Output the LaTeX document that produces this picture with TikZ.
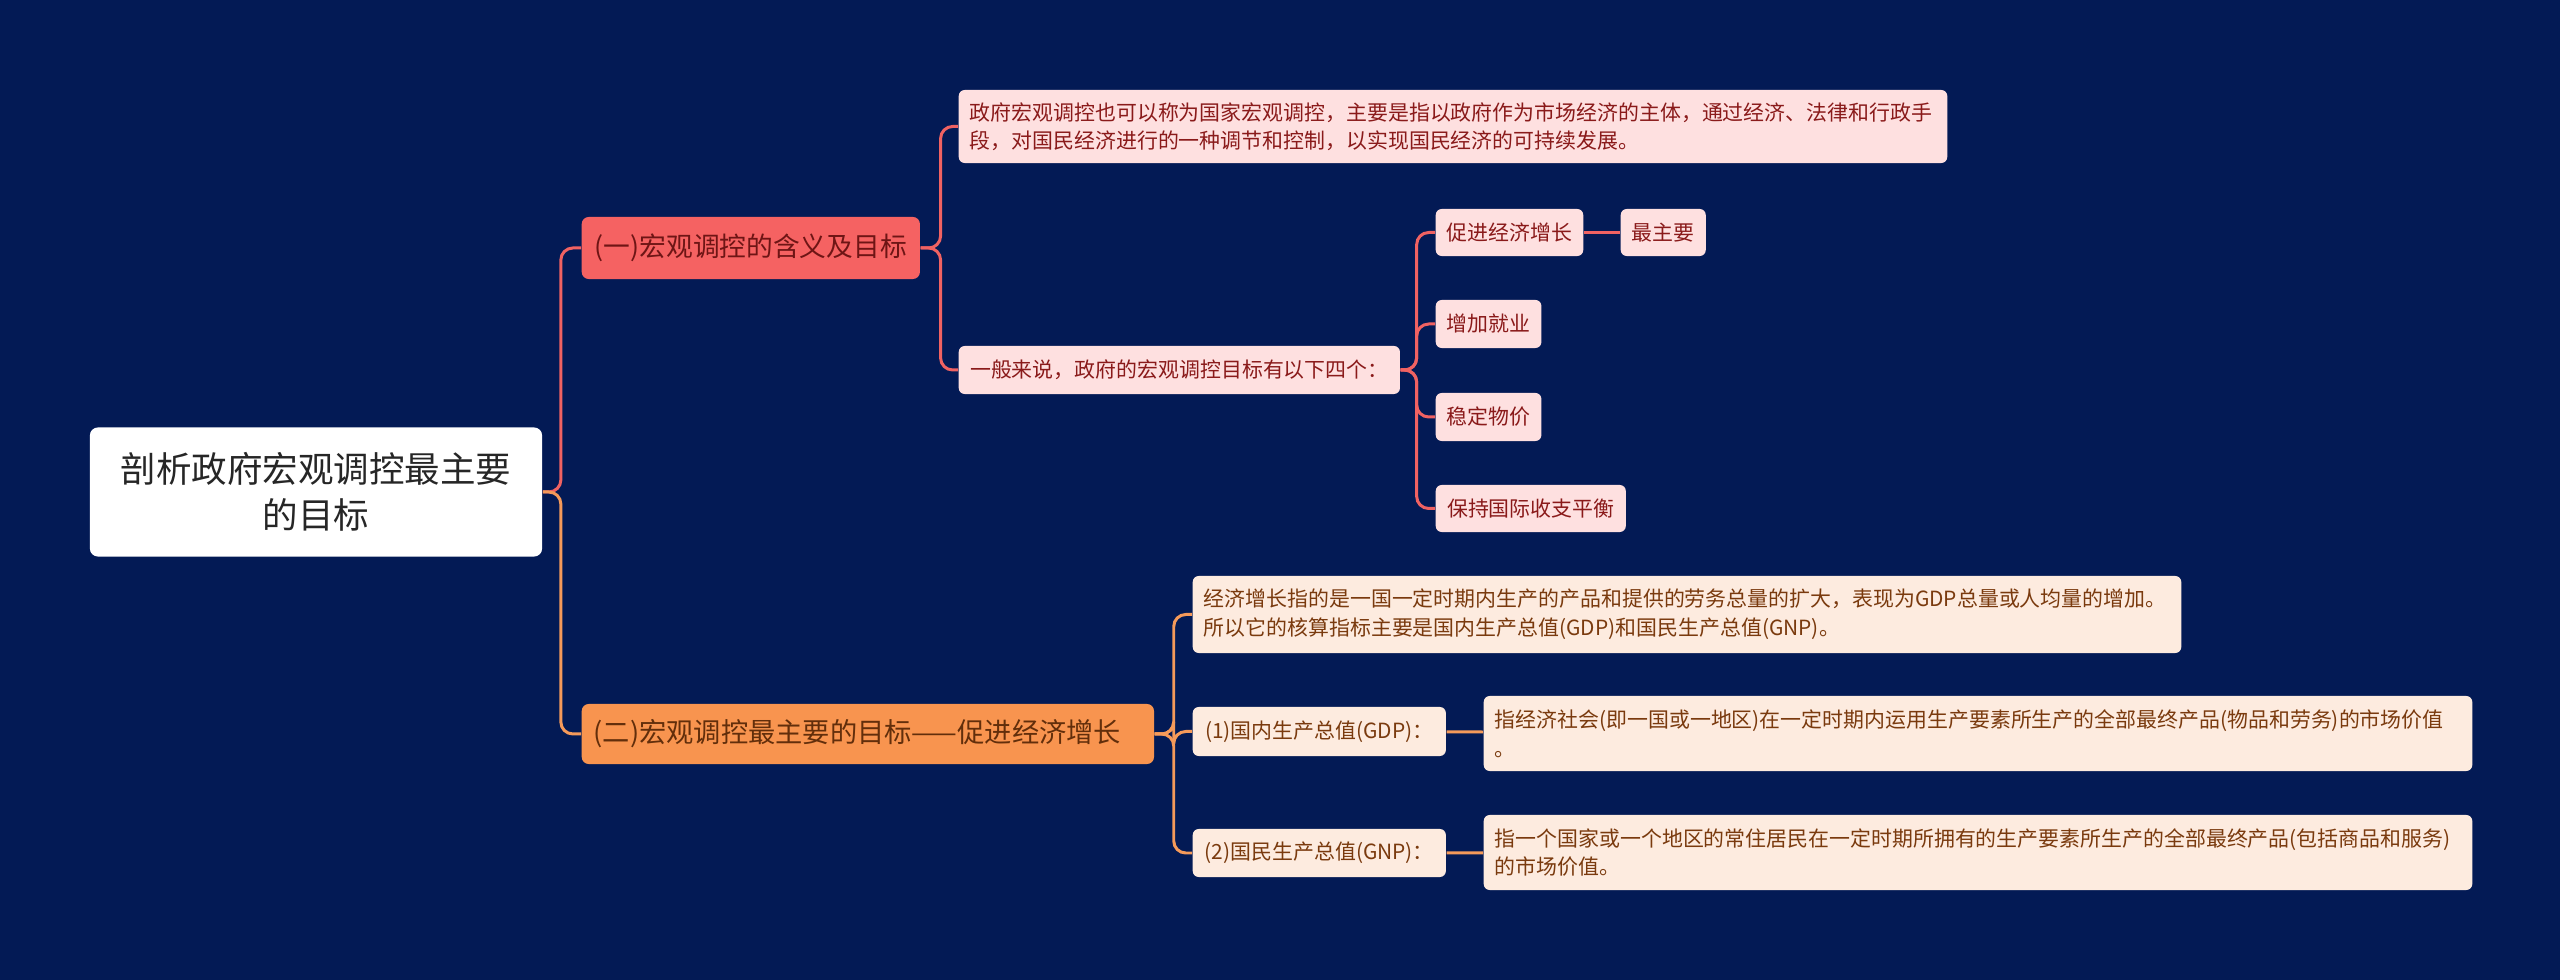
\documentclass[tikz,border=0pt]{standalone}
\usepackage{fontspec}
\setmainfont{Noto Sans CJK SC}
\usetikzlibrary{positioning}
\definecolor{bgnavy}{HTML}{031A55}
\definecolor{redfill}{HTML}{F56262}
\definecolor{orangefill}{HTML}{F8944F}
\definecolor{pinkfill}{HTML}{FEE0E0}
\definecolor{peachfill}{HTML}{FDEBDF}
\definecolor{redtext}{HTML}{8A1A1A}
\definecolor{browntext}{HTML}{7A3A0E}
\definecolor{redline}{HTML}{F06262}
\definecolor{orangeline}{HTML}{F59A5A}

\begin{document}
\begin{tikzpicture}[x=0.01cm, y=-0.01cm]
  % Define styles
  \tikzstyle{rootbox} = [rectangle, fill=white, rounded corners=0.08cm, minimum width=4.52cm, minimum height=1.29cm, align=center, text=black!85, font=\fontsize{10.1}{13.1}\selectfont]
  \tikzstyle{redbranch} = [rectangle, fill=redfill, rounded corners=0.07cm, minimum height=0.62cm, inner xsep=0.12cm, text=redtext!80!black, font=\fontsize{7.6}{9}\selectfont]
  \tikzstyle{orangebranch} = [rectangle, fill=orangefill, rounded corners=0.07cm, minimum height=0.6cm, inner xsep=0.12cm, text=browntext!80!black, font=\fontsize{7.75}{9}\selectfont]
  \tikzstyle{pinkleaf} = [rectangle, fill=pinkfill, rounded corners=0.06cm, inner xsep=0.11cm, align=left, text=redtext, font=\fontsize{5.95}{7.9}\selectfont]
  \tikzstyle{peachleaf} = [rectangle, fill=peachfill, rounded corners=0.06cm, inner xsep=0.11cm, align=left, text=browntext, font=\fontsize{5.95}{8.2}\selectfont]
  \tikzstyle{redlink} = [draw=redline, line width=0.85pt, rounded corners=0.12cm]
  \tikzstyle{orangelink} = [draw=orangeline, line width=0.85pt, rounded corners=0.12cm]

  % Background
  \fill[bgnavy] (0,0) rectangle (2560,980);

  % Root
  \node[rootbox] (root) at (316,492) {剖析政府宏观调控最主要\\的目标};

  % Branch one
  \node[redbranch, anchor=west, minimum width=3.38cm] (meaning) at (581,248) {(一)宏观调控的含义及目标};
  \node[pinkleaf, anchor=west, text width=9.66cm, minimum height=0.73cm] (define) at (958,126.5) {政府宏观调控也可以称为国家宏观调控，主要是指以政府作为市场经济的主体，通过经济、法律和行政手\\段，对国民经济进行的一种调节和控制，以实现国民经济的可持续发展。};
  \node[pinkleaf, anchor=west, minimum width=4.41cm, minimum height=0.48cm] (goals) at (958,370) {一般来说，政府的宏观调控目标有以下四个：};
  \node[pinkleaf, anchor=west, minimum width=1.47cm, minimum height=0.47cm] (growth) at (1435,232.5) {促进经济增长};
  \node[pinkleaf, anchor=west, minimum width=0.85cm, minimum height=0.47cm] (most) at (1620,232.5) {最主要};
  \node[pinkleaf, anchor=west, minimum width=1.05cm, minimum height=0.48cm] (jobs) at (1435,324) {增加就业};
  \node[pinkleaf, anchor=west, minimum width=1.05cm, minimum height=0.48cm] (prices) at (1435,417) {稳定物价};
  \node[pinkleaf, anchor=west, minimum width=1.9cm, minimum height=0.47cm] (balance) at (1435,508.5) {保持国际收支平衡};

  % Branch two
  \node[orangebranch, anchor=west, text width=5.48cm] (main) at (581,734) {(二)宏观调控最主要的目标——促进经济增长};
  \node[peachleaf, anchor=west, text width=9.66cm, minimum height=0.77cm] (explain) at (1192,614.5) {经济增长指的是一国一定时期内生产的产品和提供的劳务总量的扩大，表现为GDP总量或人均量的增加。\\所以它的核算指标主要是国内生产总值(GDP)和国民生产总值(GNP)。};
  \node[peachleaf, anchor=west, minimum width=2.53cm, minimum height=0.49cm] (gdp) at (1192,731.5) {(1)国内生产总值(GDP)：};
  \node[peachleaf, anchor=west, text width=9.66cm, minimum height=0.75cm] (gdpdef) at (1483,733.5) {指经济社会(即一国或一地区)在一定时期内运用生产要素所生产的全部最终产品(物品和劳务)的市场价值\\。};
  \node[peachleaf, anchor=west, minimum width=2.53cm, minimum height=0.48cm] (gnp) at (1192,853) {(2)国民生产总值(GNP)：};
  \node[peachleaf, anchor=west, text width=9.66cm, minimum height=0.75cm] (gnpdef) at (1483,852.5) {指一个国家或一个地区的常住居民在一定时期所拥有的生产要素所生产的全部最终产品(包括商品和服务)\\的市场价值。};

  % Connections - branch one
  \draw[redlink] (root.east) -- ++(18,0) |- (meaning.west);
  \draw[redlink] (meaning.east) -- ++(20,0) |- (define.west);
  \draw[redlink] (meaning.east) -- ++(20,0) |- (goals.west);
  \draw[redlink] (goals.east) -- ++(16,0) |- (growth.west);
  \draw[redlink] (goals.east) -- ++(16,0) |- (jobs.west);
  \draw[redlink] (goals.east) -- ++(16,0) |- (prices.west);
  \draw[redlink] (goals.east) -- ++(16,0) |- (balance.west);
  \draw[redlink] (growth) -- (most);

  % Connections - branch two
  \draw[orangelink] (root.east) -- ++(18,0) |- (main.west);
  \draw[orangelink] (main.east) -- ++(19,0) |- (explain.west);
  \draw[orangelink] (main.east) -- ++(19,0) |- (gdp.west);
  \draw[orangelink] (main.east) -- ++(19,0) |- (gnp.west);
  \draw[orangelink] (gdp) -- (gdpdef);
  \draw[orangelink] (gnp) -- (gnpdef);

\end{tikzpicture}
\end{document}
